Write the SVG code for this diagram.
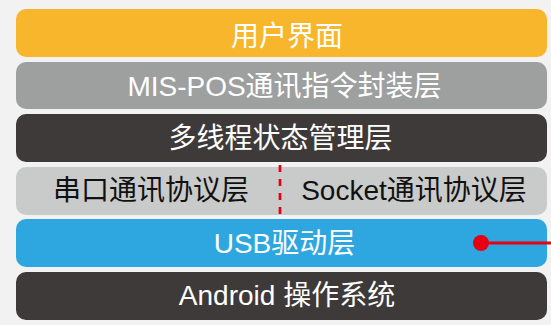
<svg xmlns="http://www.w3.org/2000/svg" width="551" height="325" viewBox="0 0 551 325">
<style>
  .bar { rx: 10px; ry: 10px; }
  .t { font-family: "Liberation Sans", "Noto Sans CJK SC", sans-serif; font-size: 28px; text-anchor: middle; }
  .w { fill: #ffffff; }
  .k { fill: #111111; }
</style>
<rect x="0" y="0" width="551" height="325" fill="#f2f2f2"/>
<g id="ui">
  <rect class="bar" x="16" y="9" width="531" height="48" fill="#f7b62c"/>
  <text class="t w" x="287" y="46">用户界面</text>
</g>
<g id="mispos">
  <rect class="bar" x="16" y="62" width="531" height="47" fill="#9e9f9f"/>
  <text class="t w" x="284.5" y="96">MIS-POS通讯指令封装层</text>
</g>
<g id="thread">
  <rect class="bar" x="16" y="114" width="531" height="48" fill="#3e3a39"/>
  <text class="t w" x="280.5" y="148">多线程状态管理层</text>
</g>
<g id="protocol">
  <rect class="bar" x="16" y="167" width="531" height="48" fill="#c9caca"/>
  <text class="t k" x="151" y="200">串口通讯协议层</text>
  <text class="t k" x="414" y="200">Socket通讯协议层</text>
  <line x1="280" y1="165" x2="280" y2="216" stroke="#e60012" stroke-width="2.7" stroke-dasharray="7 7"/>
</g>
<g id="usb">
  <rect class="bar" x="16" y="219" width="531" height="48" fill="#2ea7e0"/>
  <text class="t w" x="284.5" y="253">USB驱动层</text>
</g>
<g id="android">
  <rect class="bar" x="16" y="272" width="531" height="48" fill="#3e3a39"/>
  <text class="t w" x="287" y="305">Android 操作系统</text>
</g>
<g id="connectors">
  <line x1="481" y1="243" x2="551" y2="243" stroke="#e60012" stroke-width="3"/>
  <circle cx="481" cy="243" r="8" fill="#e60012"/>
</g>
</svg>
